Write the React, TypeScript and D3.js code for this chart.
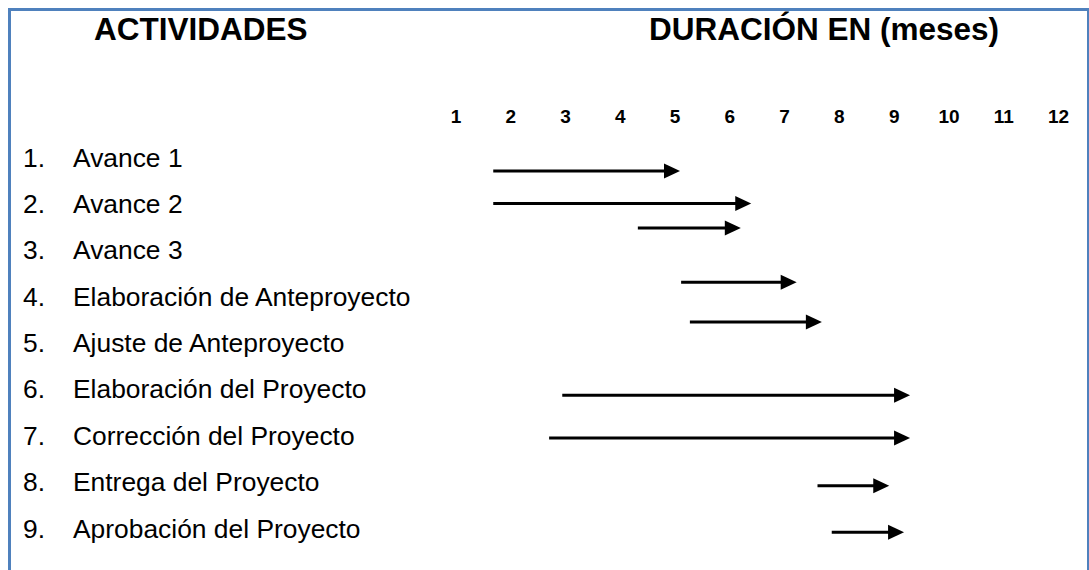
import React from "react";
import * as d3 from "d3";

const months = [1, 2, 3, 4, 5, 6, 7, 8, 9, 10, 11, 12];
const activities = [
  "Avance 1",
  "Avance 2",
  "Avance 3",
  "Elaboración de Anteproyecto",
  "Ajuste de Anteproyecto",
  "Elaboración del Proyecto",
  "Corrección del Proyecto",
  "Entrega del Proyecto",
  "Aprobación del Proyecto",
];
// arrow start / end in months (on the month axis), lane in row units
const arrowStart = [1.68, 1.68, 4.32, 5.11, 5.27, 2.94, 2.7, 7.6, 7.86];
const arrowEnd = [5.09, 6.39, 6.2, 7.22, 7.68, 9.29, 9.29, 8.91, 9.18];
const arrowLane = [1.3, 2.0, 2.53, 3.7, 4.56, 6.14, 7.06, 8.09, 9.09];

const titleLeft = "ACTIVIDADES";
const titleRight = "DURACIÓN EN (meses)";

const W = 1089;
const H = 570;
const FONT = "Arial, 'Liberation Sans', Helvetica, sans-serif";

export default function App() {
  const x = d3.scaleLinear().domain([1, 12]).range([456, 1058.5]);
  const y = d3.scaleLinear().domain([1, 9]).range([157, 528]);
  const headLen = 16;
  const headHalf = 7.5;

  return (
    <svg
      width={W}
      height={H}
      style={{ position: "absolute", left: 0, top: 0, background: "#fff" }}
      fontFamily={FONT}
    >
      <rect x={0} y={0} width={W} height={H} fill="#fff" />
      {/* border */}
      <path
        d={`M9.5,${H + 5} L9.5,9.5 L1088.5,9.5 L1088.5,${H + 5}`}
        fill="none"
        stroke="#4F81BD"
        strokeWidth={3}
      />
      {/* titles */}
      <text x={94} y={40} fontSize={31.5} fontWeight="bold" fill="#000">
        {titleLeft}
      </text>
      <text x={649} y={40} fontSize={31.5} fontWeight="bold" fill="#000">
        {titleRight}
      </text>
      {/* month ticks */}
      {months.map((m) => (
        <text
          key={m}
          x={x(m)}
          y={122.5}
          fontSize={19}
          fontWeight="bold"
          textAnchor="middle"
          fill="#000"
        >
          {m}
        </text>
      ))}
      {/* activity labels */}
      {activities.map((a, i) => (
        <g key={a}>
          <text x={23} y={y(i + 1) + 9.5} fontSize={26.4} fill="#000">
            {`${i + 1}.`}
          </text>
          <text x={73} y={y(i + 1) + 9.5} fontSize={26.4} fill="#000">
            {a}
          </text>
        </g>
      ))}
      {/* arrows */}
      {arrowStart.map((s, i) => {
        const x0 = x(s);
        const x1 = x(arrowEnd[i]);
        const yy = y(arrowLane[i]);
        return (
          <g key={i}>
            <line
              x1={x0}
              y1={yy}
              x2={x1 - headLen + 1}
              y2={yy}
              stroke="#000"
              strokeWidth={3}
            />
            <path
              d={`M${x1},${yy} L${x1 - headLen},${yy - headHalf} L${x1 - headLen},${yy + headHalf} Z`}
              fill="#000"
            />
          </g>
        );
      })}
    </svg>
  );
}
